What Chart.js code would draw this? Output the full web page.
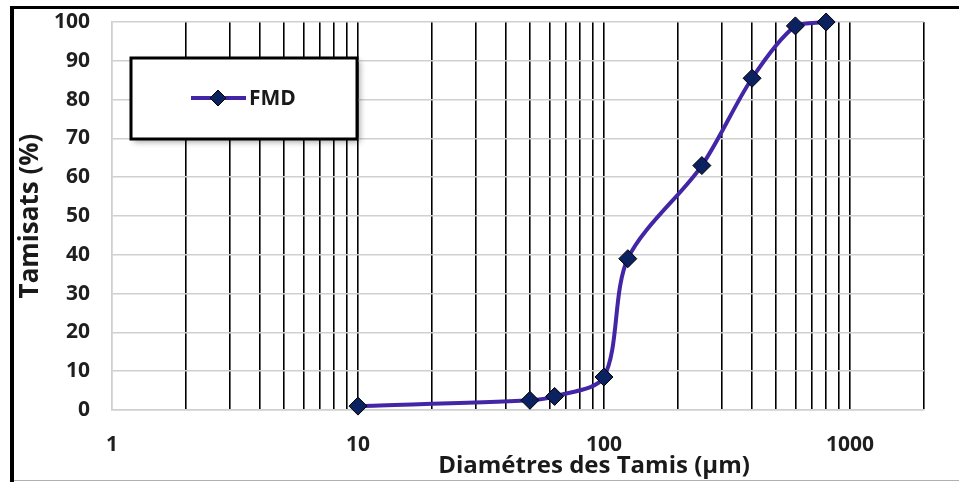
<!DOCTYPE html>
<html>
<head>
<meta charset="utf-8">
<script src="https://cdn.jsdelivr.net/npm/chart.js@4"></script>
<style>
  html, body { margin: 0; padding: 0; background: #fff; }
  #wrap { width: 959px; height: 482px; position: relative; }
</style>
</head>
<body>
<div id="wrap"><canvas id="granulo"></canvas></div>
<script>
// sieve sizes (µm) and passing percentages
var diametres = [10, 50, 63, 100, 125, 250, 400, 600, 800];
var tamisats = [1, 2.5, 3.5, 8.5, 39, 63, 85.5, 99, 100];
var xLabels = [1, 10, 100, 1000];
var xSteps = [1, 2, 3, 4, 5, 6, 7, 8, 9];
var xEnd = [1000, 2000];
var serieName = 'FMD';
var xTitle = 'Diamétres des Tamis (µm)';
var yTitle = 'Tamisats (%)';

var lineColor = '#4326A6';
var markerColor = '#0B2160';
var fontName = 'Open Sans';

// vertical grid at every step of each decade, then 1000 and the right edge
var xGrid = [];
[1, 10, 100].forEach(function (d) {
    xSteps.forEach(function (s) { xGrid.push(d * s); });
});
xGrid = xGrid.concat(xEnd);

// frame, legend box and shifted x title, drawn on the canvas
var decor = {
    id: 'decor',
    afterDraw: function (chart) {
        var ctx = chart.ctx;
        ctx.save();
        // outer frame
        ctx.fillStyle = '#000';
        ctx.fillRect(10, 6, 949, 3);
        ctx.fillRect(10, 6, 4, 476);
        ctx.fillStyle = '#b0b0b0';
        ctx.fillRect(14, 480, 945, 1);

        // legend
        ctx.shadowColor = 'rgba(0,0,0,0.35)';
        ctx.shadowBlur = 6;
        ctx.shadowOffsetX = 3;
        ctx.shadowOffsetY = 3;
        ctx.fillStyle = '#fff';
        ctx.fillRect(131, 58, 226, 81);
        ctx.shadowColor = 'transparent';
        ctx.lineWidth = 3;
        ctx.strokeStyle = '#000';
        ctx.strokeRect(131, 58, 226, 81);
        ctx.lineWidth = 4;
        ctx.strokeStyle = lineColor;
        ctx.beginPath();
        ctx.moveTo(191, 98);
        ctx.lineTo(246, 98);
        ctx.stroke();
        ctx.beginPath();
        ctx.moveTo(218, 90);
        ctx.lineTo(226, 98);
        ctx.lineTo(218, 106);
        ctx.lineTo(210, 98);
        ctx.closePath();
        ctx.fillStyle = markerColor;
        ctx.fill();
        ctx.lineWidth = 1;
        ctx.strokeStyle = '#000';
        ctx.stroke();
        ctx.fillStyle = '#1a1a1a';
        ctx.font = 'bold 21px "' + fontName + '"';
        ctx.textBaseline = 'middle';
        ctx.fillText(serieName, 249, 99);

        // x axis title
        ctx.font = 'bold 24px "' + fontName + '"';
        ctx.textAlign = 'center';
        ctx.fillText(xTitle, 594, 466);
        ctx.restore();
    }
};

var ctx = document.getElementById('granulo').getContext('2d');
var granulo = new Chart(ctx, {
    type: 'line',
    data: {
        datasets: [{
            label: serieName,
            data: diametres.map(function (d, i) { return { x: d, y: tamisats[i] }; }),
            borderColor: lineColor,
            borderWidth: 4,
            tension: 0.3,
            pointStyle: 'rectRot',
            pointRadius: 9,
            pointHoverRadius: 9,
            pointBackgroundColor: markerColor,
            pointBorderColor: '#000',
            pointBorderWidth: 1,
            clip: false
        }]
    },
    options: {
        responsive: true,
        maintainAspectRatio: false,
        animation: false,
        layout: { padding: { left: 14, right: 35, top: 22, bottom: 0 } },
        plugins: {
            legend: { display: false },
            tooltip: { enabled: false }
        },
        scales: {
            x: {
                type: 'logarithmic',
                min: 1,
                max: 2000,
                afterBuildTicks: function (scale) {
                    scale.ticks = xGrid.map(function (v) { return { value: v }; });
                },
                afterFit: function (scale) {
                    scale.height = 72;
                    scale.paddingLeft = 0;
                    scale.paddingRight = 0;
                },
                border: { display: true, color: '#d0d0d0', width: 1.5 },
                grid: {
                    drawTicks: false,
                    lineWidth: 1.6,
                    color: function (c) { return c.tick && c.tick.value === 1 ? '#d0d0d0' : '#000'; }
                },
                ticks: {
                    autoSkip: false,
                    maxRotation: 0,
                    padding: 22,
                    color: '#1f1f1f',
                    font: { family: fontName, size: 21, weight: 'bold' },
                    callback: function (v) { return xLabels.indexOf(v) >= 0 ? String(v) : ''; }
                }
            },
            y: {
                min: 0,
                max: 100,
                afterFit: function (scale) {
                    scale.width = 98;
                    scale.paddingTop = 0;
                    scale.paddingBottom = 0;
                },
                border: { display: true, color: '#d0d0d0', width: 1.5 },
                grid: { drawTicks: false, color: '#d0d0d0', lineWidth: 1.5 },
                ticks: {
                    stepSize: 10,
                    padding: 22,
                    color: '#1f1f1f',
                    font: { family: fontName, size: 21, weight: 'bold' }
                },
                title: {
                    display: true,
                    text: yTitle,
                    color: '#1a1a1a',
                    padding: { top: 1, bottom: 0 },
                    font: { family: fontName, size: 26, weight: 'bold' }
                }
            }
        }
    },
    plugins: [decor]
});
</script>
</body>
</html>
